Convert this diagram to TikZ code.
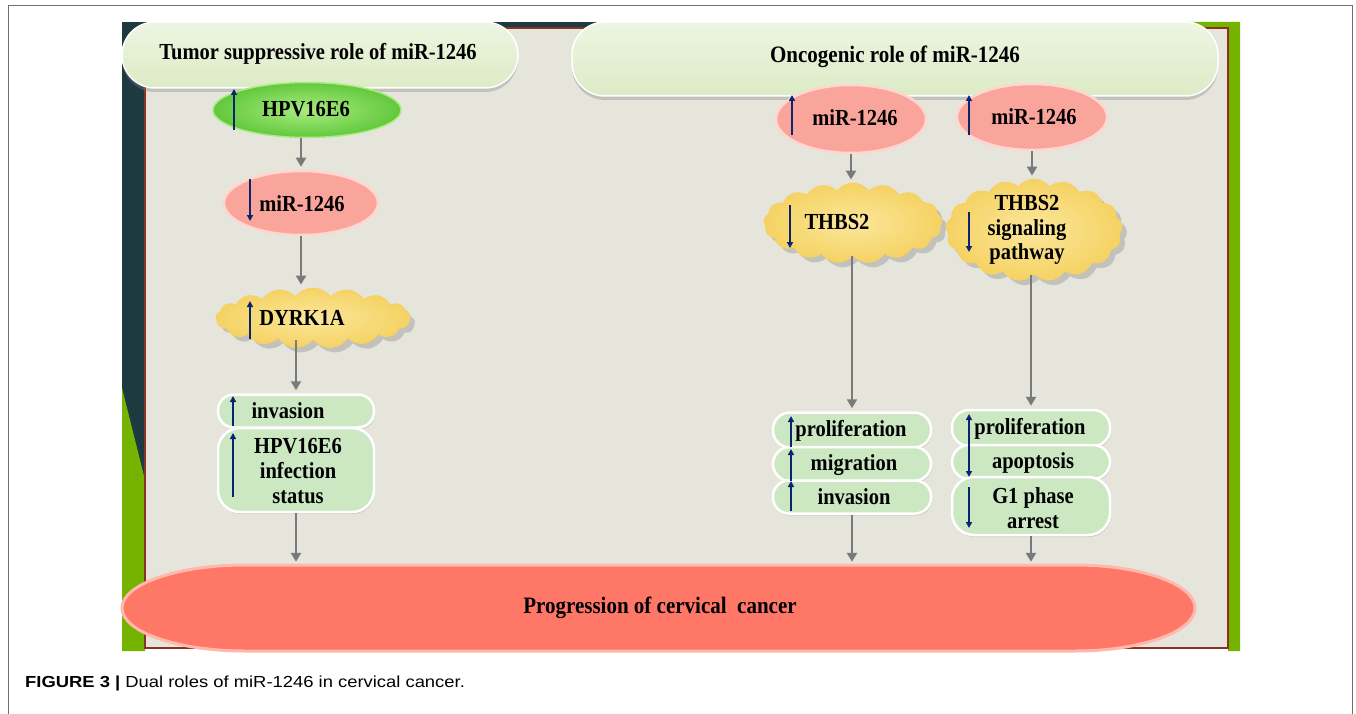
\documentclass[tikz,border=0pt]{standalone}
\usepackage{fontspec}
\setmainfont{Liberation Serif}
\newfontfamily\capfont{Liberation Sans}
\usetikzlibrary{shapes.geometric,shapes.symbols,shadows,arrows.meta}
\definecolor{darkteal}{HTML}{1C3A40}
\definecolor{pgreen}{HTML}{74B300}
\definecolor{panelbg}{HTML}{E6E5DC}
\definecolor{pbrown}{HTML}{8A3324}
\definecolor{hdrtop}{HTML}{EEF5E2}
\definecolor{hdrbot}{HTML}{DCEBC6}
\definecolor{hpvlight}{HTML}{A8EC80}
\definecolor{hpvdark}{HTML}{62C83C}
\definecolor{pinkfill}{HTML}{F9A59C}
\definecolor{pinkedge}{HTML}{FFD6CF}
\definecolor{cloudin}{HTML}{FBE79B}
\definecolor{cloudout}{HTML}{F5D263}
\definecolor{boxgreen}{HTML}{CBE8C2}
\definecolor{redfill}{HTML}{FF7766}
\definecolor{rededge}{HTML}{FFB8AC}
\definecolor{arrgray}{HTML}{7A7A7A}
\definecolor{navy}{HTML}{0B2470}
\definecolor{framegray}{HTML}{707070}
\tikzset{
  lbl/.style={font=\bfseries\fontsize{20.5}{22}\selectfont, inner sep=0, align=center,
    transform shape, yscale=1.12},
  hdr/.style={rectangle, rounded corners=33, draw=white, line width=1.5,
    top color=hdrtop, bottom color=hdrbot,
    drop shadow={opacity=0.35, shadow xshift=0pt, shadow yshift=-4pt}},
  hpvell/.style={ellipse, draw=hpvlight, line width=1.5, inner color=hpvlight, outer color=hpvdark},
  pinkell/.style={ellipse, draw=pinkedge, line width=2.5, fill=pinkfill},
  cloudbox/.style={cloud, cloud puffs=17, cloud puff arc=105, aspect=3,
    inner color=cloudin, outer color=cloudout, draw=cloudout, line width=0.8,
    drop shadow={opacity=0.35, shadow xshift=5pt, shadow yshift=-5pt}},
  gbox/.style={rectangle, draw=white, line width=2.5, fill=boxgreen,
    drop shadow={opacity=0.25, shadow xshift=1pt, shadow yshift=-2pt}},
  garrow/.style={draw=arrgray, line width=2.5, -{Triangle[length=9pt,width=10pt]}, shorten >=3pt},
  barrow/.style={draw=navy, line width=1.8, -{Triangle[length=6pt,width=6pt]}},
}
\begin{document}
\begin{tikzpicture}[x=1pt,y=-1pt]
\useasboundingbox (0,0) rectangle (1356,714);
\fill[white] (0,0) rectangle (1356,714);
\draw[framegray, line width=1] (8,714) -- (8,6) -- (1352,6) -- (1352,714);

% panel background
\fill[darkteal] (122,22) rectangle (145,651);
\fill[darkteal] (122,22) rectangle (1200,28);
\fill[pgreen] (122,388) -- (145,480) -- (145,651) -- (122,651) -- cycle;
\fill[pgreen] (1185,22) -- (1240,22) -- (1240,651) -- (1228,651) -- (1228,28) -- (1180,28) -- cycle;
\filldraw[fill=panelbg, draw=pbrown, line width=1.5] (145,28) rectangle (1228,648);

% headers
\node[hdr, minimum width=396, minimum height=66] (hdrL) at (320,55) {};
\node[lbl] (hdrLt) at (318,54) {Tumor suppressive role of miR-1246};
\node[hdr, minimum width=646, minimum height=74] (hdrR) at (895,59) {};
\node[lbl, font=\bfseries\fontsize{21}{22}\selectfont] (hdrRt) at (895,57) {Oncogenic role of miR-1246};

% left column
\node[hpvell, minimum width=188, minimum height=55] (hpv) at (307,110) {};
\node[lbl] (hpvt) at (306,109) {HPV16E6};
\node[pinkell, minimum width=154, minimum height=64] (mirL) at (301,203) {};
\node[lbl] (mirLt) at (302,204) {miR-1246};
\node[cloudbox, minimum width=194, minimum height=60] (dyrk) at (313,318) {};
\node[lbl] (dyrkt) at (302,318) {DYRK1A};
\node[gbox, rounded corners=16, minimum width=156, minimum height=33] (invL) at (296,411) {};
\node[lbl] (invLt) at (288,411) {invasion};
\node[gbox, rounded corners=22, minimum width=156, minimum height=84] (hpvbox) at (296,470) {};
\node[lbl] (hpvboxt) at (298,471) {HPV16E6\\infection\\status};

% middle column
\node[pinkell, minimum width=150, minimum height=68] (mirM) at (851,119) {};
\node[lbl] (mirMt) at (855,118) {miR-1246};
\node[cloudbox, minimum width=178, minimum height=80] (thbs) at (853,223) {};
\node[lbl] (thbst) at (837,222) {THBS2};
\node[gbox, rounded corners=17, minimum width=158, minimum height=35] (prolM) at (852,430) {};
\node[lbl] (prolMt) at (851,431) {proliferation};
\node[gbox, rounded corners=17, minimum width=158, minimum height=34] (migM) at (852,464) {};
\node[lbl] (migMt) at (854,465) {migration};
\node[gbox, rounded corners=16, minimum width=158, minimum height=33] (invM) at (852,497) {};
\node[lbl] (invMt) at (854,497) {invasion};

% right column
\node[pinkell, minimum width=150, minimum height=66] (mirR) at (1032,117) {};
\node[lbl] (mirRt) at (1034,117) {miR-1246};
\node[cloudbox, minimum width=176, minimum height=102] (thbsR) at (1034,230) {};
\node[lbl] (thbsRt) at (1027,230) {THBS2\\signaling\\pathway};
\node[gbox, rounded corners=17, minimum width=158, minimum height=36] (prolR) at (1031,428) {};
\node[lbl] (prolRt) at (1030,429) {proliferation};
\node[gbox, rounded corners=17, minimum width=158, minimum height=34] (apoR) at (1031,462) {};
\node[lbl] (apoRt) at (1033,463) {apoptosis};
\node[gbox, rounded corners=22, minimum width=158, minimum height=58] (g1R) at (1031,506) {};
\node[lbl] (g1Rt) at (1033,508) {G1 phase\\arrest};

% bottom
\filldraw[fill=redfill, draw=rededge, line width=3]
  (245,565) -- (1075,565) arc[start angle=-90, end angle=90, x radius=120, y radius=43]
  -- (245,651) arc[start angle=90, end angle=270, x radius=123, y radius=43] -- cycle;
\node[minimum width=1074, minimum height=86, inner sep=0] (prog) at (658,608) {};
\node[lbl, font=\bfseries\fontsize{21}{22}\selectfont] (progt) at (660,608) {Progression of cervical\ \ cancer};

% connectors
\draw[garrow] (hpv.south -| mirL.north) -- (mirL.north);
\draw[garrow] (mirL.south) -- (mirL.south |- dyrk.north);
\draw[garrow] (dyrk.south -| invL.north) -- (invL.north);
\draw[garrow] (hpvbox.south) -- (hpvbox.south |- prog.north);
\draw[garrow] (mirM.south) -- (mirM.south |- thbs.north);
\draw[garrow] (thbs.south -| prolM.north) -- (prolM.north);
\draw[garrow] (invM.south) -- (invM.south |- prog.north);
\draw[garrow] (mirR.south) -- (mirR.south |- thbsR.north);
\draw[garrow] (thbsR.south -| prolR.north) -- (prolR.north);
\draw[garrow] (g1R.south) -- (g1R.south |- prog.north);

% up/down marks
\draw[barrow] (234,130) -- (234,89);
\draw[barrow] (250,179) -- (250,221);
\draw[barrow] (250,339) -- (250,301);
\draw[barrow] (233,426) -- (233,396);
\draw[barrow] (233,497) -- (233,433);
\draw[barrow] (792,135) -- (792,95);
\draw[barrow] (969,135) -- (969,95);
\draw[barrow] (790,205) -- (790,248);
\draw[barrow] (969,212) -- (969,252);
\draw[barrow] (791,447) -- (791,416);
\draw[barrow] (791,481) -- (791,449);
\draw[barrow] (791,511) -- (791,481);
\draw[barrow] (969,446) -- (969,414);
\draw[barrow] (969,445) -- (969,477);
\draw[barrow] (969,487) -- (969,528);

% caption
\node[anchor=base west, inner sep=0, font=\capfont\fontsize{16}{19}\selectfont] (cap) at (25,687)
  {\scalebox{1.15}[1]{\textbf{FIGURE 3 |} Dual roles of miR-1246 in cervical cancer.}};
\end{tikzpicture}
\end{document}
